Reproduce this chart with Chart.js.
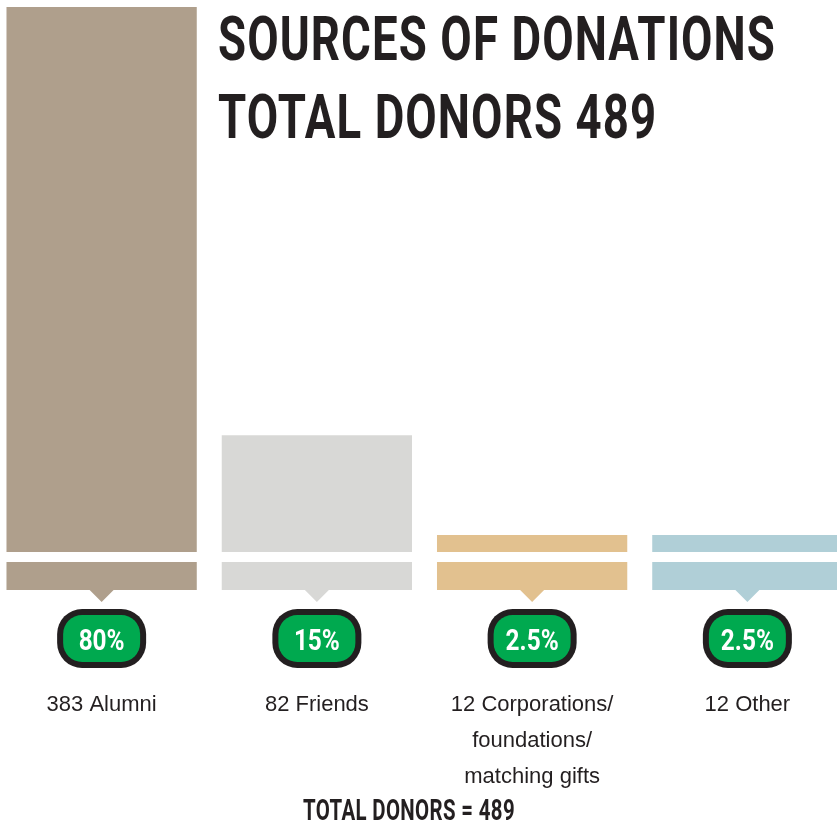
<!DOCTYPE html>
<html lang="en">
<head>
<meta charset="UTF-8">
<title>Sources of Donations</title>
<script src="https://cdn.jsdelivr.net/npm/chart.js@4"></script>
<style>
  html, body { margin: 0; padding: 0; background: #fff; overflow: hidden; }
  .wrap { position: relative; width: 837px; height: 824px; overflow: hidden; }
  #chart { position: absolute; left: -6px; top: 0; }
  .title {
    position: absolute; left: 218px; top: 0px; margin: 0;
    font-family: Roboto, "DejaVu Sans Condensed", sans-serif;
    font-weight: bold; font-size: 62px; line-height: 78px; color: #231f20;
    letter-spacing: 1.5px;
    transform-origin: left top; white-space: nowrap;
  }
  .footer {
    position: absolute; left: 303px; top: 793px; margin: 0;
    font-family: Roboto, "DejaVu Sans Condensed", sans-serif;
    font-weight: bold; font-size: 29px; line-height: 34px; color: #231f20;
    letter-spacing: 0.5px;
    transform-origin: left top; white-space: nowrap;
  }
  .title span, .footer span { display: inline-block; }
</style>
</head>
<body>
<div class="wrap">
  <canvas id="chart" width="861" height="824"></canvas>
  <h1 class="title" id="title"><span id="t1">SOURCES OF DONATIONS</span><br><span>TOTAL DONORS 489</span></h1>
  <div class="footer" id="footer"><span id="f1">TOTAL DONORS = 489</span></div>
</div>
<script>
// datos del grafico
const categories = [
  '383 Alumni',
  '82 Friends',
  ['12 Corporations/', 'foundations/', 'matching gifts'],
  '12 Other'
];
const donors = [383, 82, 12, 12];
const shares = ['80%', '15%', '2.5%', '2.5%'];
const barColors = ['#af9f8c', '#d8d8d6', '#e2c18f', '#b0cfd7'];

// estrechar los textos de titulo (la fuente original es condensada)
function squeeze(boxId, spanId, targetWidth) {
  const w = document.getElementById(spanId).getBoundingClientRect().width;
  document.getElementById(boxId).style.transform = 'scaleX(' + (targetWidth / w) + ')';
}
squeeze('title', 't1', 558);
squeeze('footer', 'f1', 212);

// banda inferior, flecha y pastilla verde con el porcentaje
const pillPlugin = {
  id: 'pills',
  afterDatasetsDraw(chart) {
    const ctx = chart.ctx;
    const meta = chart.getDatasetMeta(0);
    const font = 'bold 30px Roboto, "DejaVu Sans Condensed", sans-serif';
    ctx.save();
    ctx.font = font;
    const sx = 46 / ctx.measureText(shares[0]).width;
    ctx.restore();
    meta.data.forEach((bar, i) => {
      const x = bar.x, w = bar.width, base = bar.base;
      ctx.save();
      ctx.fillStyle = barColors[i];
      ctx.fillRect(x - w / 2, base + 10, w, 28);
      ctx.beginPath();
      ctx.moveTo(x - 12, base + 38);
      ctx.lineTo(x + 12, base + 38);
      ctx.lineTo(x, base + 50);
      ctx.closePath();
      ctx.fill();

      const cy = base + 86.5;
      ctx.fillStyle = '#231f20';
      ctx.beginPath();
      ctx.roundRect(x - 44.5, cy - 29.5, 89, 59, 25);
      ctx.fill();
      ctx.fillStyle = '#00a94f';
      ctx.beginPath();
      ctx.roundRect(x - 38.5, cy - 23.5, 77, 47, 19);
      ctx.fill();

      ctx.fillStyle = '#ffffff';
      ctx.font = font;
      ctx.textAlign = 'center';
      ctx.textBaseline = 'alphabetic';
      ctx.translate(x, cy + 11);
      ctx.scale(sx, 1);
      ctx.fillText(shares[i], 0, 0);
      ctx.restore();
    });
  }
};

new Chart(document.getElementById('chart'), {
  type: 'bar',
  data: {
    labels: categories,
    datasets: [{
      data: donors,
      backgroundColor: barColors,
      borderWidth: 0,
      barPercentage: 0.884,
      categoryPercentage: 1
    }]
  },
  options: {
    responsive: false,
    animation: false,
    layout: { padding: { top: 7, left: 0, right: 0, bottom: 0 } },
    plugins: { legend: { display: false }, tooltip: { enabled: false } },
    scales: {
      x: {
        // marcas de tick invisibles para bajar las etiquetas sin padding lateral
        grid: { display: true, drawOnChartArea: false, drawTicks: true, tickLength: 135, color: 'rgba(0,0,0,0)' },
        border: { display: false },
        ticks: {
          color: '#231f20',
          font: { family: '"Liberation Sans", Arial, sans-serif', size: 22, lineHeight: 1.63 },
          padding: 0,
          maxRotation: 0,
          autoSkip: false
        },
        afterFit(axis) { axis.height = 272; }
      },
      y: {
        display: false,
        min: 0,
        max: Math.max(...donors)
      }
    }
  },
  plugins: [pillPlugin]
});
</script>
</body>
</html>
